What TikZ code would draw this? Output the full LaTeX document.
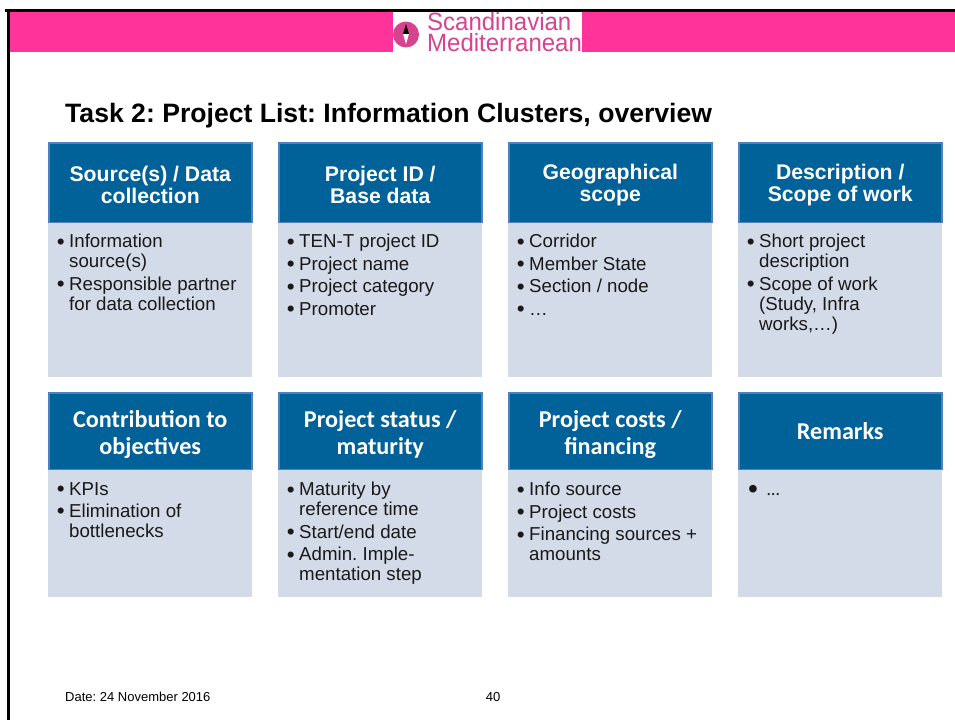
\documentclass[tikz,border=0pt]{standalone}
\usepackage{fontspec}
\setmainfont{Liberation Sans}
\newfontfamily\carlito{Carlito}
\usetikzlibrary{positioning}
\frenchspacing

\definecolor{bandpink}{HTML}{FF3399}
\definecolor{logopink}{HTML}{D6438F}
\definecolor{headblue}{HTML}{006298}
\definecolor{edgeblue}{HTML}{4F81BD}
\definecolor{bodyblue}{HTML}{D3DAE8}

\newcommand{\bitem}{\makebox[12.3pt][l]{\raisebox{-1.4pt}{\scalebox{1.2}{\textbullet}}}}
\newcommand{\bcont}{\hspace*{12.3pt}}
\newcommand{\upstrut}{\rule{0pt}{20pt}}
\newcommand{\lowstrut}{\rule{0pt}{24pt}}

\tikzset{
  headbox/.style={draw=edgeblue, line width=1.5pt, fill=headblue, text=white, anchor=north west,
                  inner sep=0pt, minimum width=203pt, minimum height=79.5pt, align=center},
  headarial/.style={headbox, font=\fontsize{21.2}{22}\selectfont\bfseries},
  headcarlito/.style={headbox, minimum height=76.5pt, font=\fontsize{24.2}{27}\selectfont\carlito\bfseries},
  bodybox/.style={fill=bodyblue, anchor=north west, inner sep=0pt, minimum width=204pt},
  bodytext/.style={anchor=north west, inner sep=0pt, align=left, text=black!90,
                   font=\fontsize{18.7}{20}\selectfont},
  logotext/.style={anchor=base west, inner sep=0pt, text=logopink, font=\fontsize{25}{25}\selectfont},
}

\begin{document}
\begin{tikzpicture}[x=1pt, y=-1pt]
\useasboundingbox (0,0) rectangle (955,720);
\fill[white] (0,0) rectangle (955,720);

% slide frame and band
\fill[bandpink] (8,12) rectangle (955,52);
\fill[black] (5,9) rectangle (955,12);
\fill[black] (7,9) rectangle (10,720);

% logo
\node[fill=white, anchor=north west, inner sep=0pt, minimum width=189pt, minimum height=41pt] (logo) at (393,12) {};
\node[circle, fill=logopink, inner sep=0pt, minimum size=26pt] (compass) at (406,34.5) {};
\fill[black] (406,24) -- (409,34) -- (403,34) -- cycle;
\fill[white] (406,44) -- (409,34) -- (403,34) -- cycle;
\node[logotext] (logoa) at (427,30.5) {\scalebox{0.96}[1]{Scandinavian}};
\node[logotext] (logob) at (427,51.5) {\scalebox{0.96}[1]{Mediterranean}};

% title
\node[anchor=west, inner sep=0pt, font=\fontsize{26.6}{28}\selectfont\bfseries] (title) at (65,116)
  {Task 2: Project List: Information Clusters, overview};

% upper row
\node[bodybox, minimum height=154pt] (body1) at (48,223) {};
\node[bodybox, minimum height=154pt] (body2) at (278,223) {};
\node[bodybox, minimum height=154pt] (body3) at (508,223) {};
\node[bodybox, minimum height=154pt] (body4) at (738,223) {};

\node[headarial] (head1) at (48,142) {\upstrut Source(s) / Data\\collection};
\node[headarial] (head2) at (278,142) {\upstrut Project ID /\\Base data};
\node[headarial] (head3) at (508,142) {\upstrut Geographical\\scope};
\node[headarial] (head4) at (738,142) {\upstrut Description /\\Scope of work};

\node[bodytext] (text1) at (56.7,234) {\bitem Information\\\bcont source(s)\\[2.5pt]
  \bitem Responsible partner\\\bcont for data collection};
\node[bodytext] (text2) at (286.7,234) {\bitem TEN-T project ID\\[2.5pt]\bitem Project name\\[2.5pt]
  \bitem Project category\\[2.5pt]\bitem Promoter};
\node[bodytext] (text3) at (516.7,234) {\bitem Corridor\\[2.5pt]\bitem Member State\\[2.5pt]
  \bitem Section / node\\[2.5pt]\bitem …};
\node[bodytext] (text4) at (746.7,234) {\bitem Short project\\\bcont description\\[2.5pt]
  \bitem Scope of work\\\bcont (Study, Infra\\\bcont works,…)};

% lower row
\node[bodybox, minimum height=127pt] (body5) at (48,470) {};
\node[bodybox, minimum height=127pt] (body6) at (278,470) {};
\node[bodybox, minimum height=127pt] (body7) at (508,470) {};
\node[bodybox, minimum height=127pt] (body8) at (738,470) {};

\node[headcarlito] (head5) at (48,392) {\lowstrut Contribution to\\objectives};
\node[headcarlito] (head6) at (278,392) {\lowstrut Project status /\\maturity};
\node[headcarlito] (head7) at (508,392) {\lowstrut Project costs /\\financing};
\node[headcarlito] (head8) at (738,392) {Remarks};

\node[bodytext] (text5) at (56.7,482) {\bitem KPIs\\[2.5pt]\bitem Elimination of\\\bcont bottlenecks};
\node[bodytext] (text6) at (286.7,482) {\bitem Maturity by\\\bcont reference time\\[2.5pt]
  \bitem Start/end date\\[2.5pt]\bitem Admin. Imple-\\\bcont mentation step};
\node[bodytext] (text7) at (516.7,482) {\bitem Info source\\[2.5pt]\bitem Project costs\\[2.5pt]
  \bitem Financing sources +\\\bcont amounts};
\node[bodytext] (text8) at (748,485) {\makebox[19pt][l]{\raisebox{-3pt}{\scalebox{1.5}{\textbullet}}}{\carlito\fontsize{18}{20}\selectfont …}};

% footer
\node[anchor=base west, inner sep=0pt, font=\fontsize{13}{15}\selectfont] (date) at (65,701) {Date: 24 November 2016};
\node[anchor=base east, inner sep=0pt, font=\fontsize{13}{15}\selectfont] (page) at (500.5,701) {40};

\end{tikzpicture}
\end{document}
